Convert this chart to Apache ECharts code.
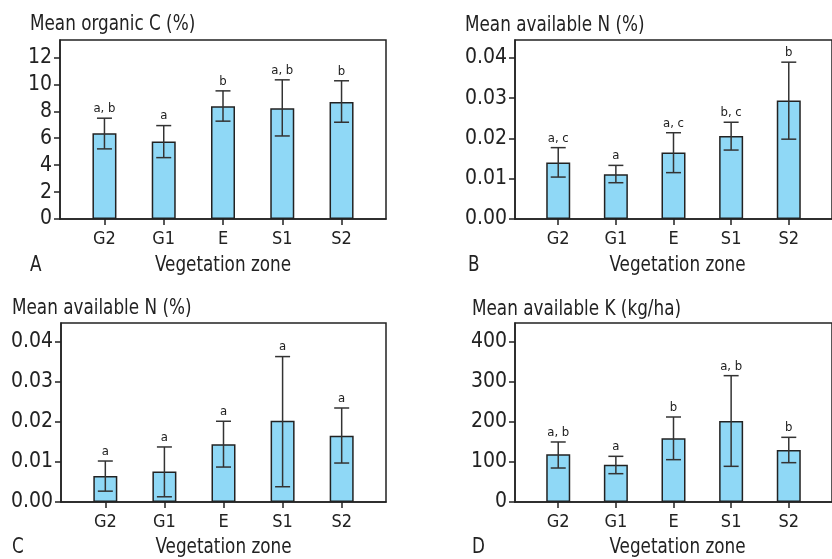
<!DOCTYPE html>
<html>
<head>
<meta charset="utf-8">
<script src="https://cdn.jsdelivr.net/npm/echarts@6/dist/echarts.min.js"></script>
<style>
  html, body { margin: 0; padding: 0; background: #fff; }
  #chart { width: 832px; height: 559px; }
</style>
</head>
<body>
<div id="chart"></div>
<script>
// vegetation zones, left to right
const zones = ["G2", "G1", "E", "S1", "S2"];
const zonePos = [1, 2, 3, 4, 5];

// A: organic carbon
const carbonMean = [6.37, 5.75, 8.38, 8.23, 8.70];
const carbonLow = [5.21, 4.56, 7.27, 6.17, 7.19];
const carbonHigh = [7.49, 6.94, 9.52, 10.34, 10.27];
const carbonLetters = ["a, b", "a", "b", "a, b", "b"];
const carbonTicks = [0, 2, 4, 6, 8, 10, 12];

// B: available N
const nitroBMean = [0.0140, 0.0111, 0.0165, 0.0206, 0.0294];
const nitroBLow = [0.0104, 0.0090, 0.0115, 0.0171, 0.0198];
const nitroBHigh = [0.0177, 0.0133, 0.0214, 0.0240, 0.0389];
const nitroBLetters = ["a, c", "a", "a, c", "b, c", "b"];

// C: available N
const nitroCMean = [0.0065, 0.0076, 0.0144, 0.0202, 0.0165];
const nitroCLow = [0.0027, 0.0013, 0.0087, 0.0038, 0.0097];
const nitroCHigh = [0.0102, 0.0137, 0.0201, 0.0362, 0.0234];
const nitroCLetters = ["a", "a", "a", "a", "a"];
const nitroTicks = [0, 0.01, 0.02, 0.03, 0.04];

// D: available K
const potashMean = [118.7, 93.0, 158.5, 201.7, 129.5];
const potashLow = [84.6, 70.5, 105.4, 88.8, 97.9];
const potashHigh = [149.4, 113.7, 211.6, 314.5, 161.0];
const potashLetters = ["a, b", "a", "b", "a, b", "b"];
const potashTicks = [0, 100, 200, 300, 400];

const xName = "Vegetation zone";

const ink = "#222";
const barFill = "#8fd8f6";
const font = "'DejaVu Sans Condensed', 'DejaVu Sans', sans-serif";
const squeeze = 0.85; // reference type is narrower than anything installed

const panels = [
  { title: "Mean organic C (%)", tag: "A", mean: carbonMean, low: carbonLow, high: carbonHigh,
    letters: carbonLetters, ticks: carbonTicks, max: 13.3, fmt: v => String(v),
    box: [60, 40, 386, 219], titleAt: [30, 24], tagAt: [30, 265.5], nameY: 265.5 },
  { title: "Mean available N (%)", tag: "B", mean: nitroBMean, low: nitroBLow, high: nitroBHigh,
    letters: nitroBLetters, ticks: nitroTicks, max: 0.0444, fmt: v => v.toFixed(2),
    box: [515, 40, 840, 219], titleAt: [465, 25.5], tagAt: [468, 265.5], nameY: 265.5 },
  { title: "Mean available N (%)", tag: "C", mean: nitroCMean, low: nitroCLow, high: nitroCHigh,
    letters: nitroCLetters, ticks: nitroTicks, max: 0.04456, fmt: v => v.toFixed(2),
    box: [61, 323, 386, 502], titleAt: [12, 308], tagAt: [12, 547], nameY: 547 },
  { title: "Mean available K (kg/ha)", tag: "D", mean: potashMean, low: potashLow, high: potashHigh,
    letters: potashLetters, ticks: potashTicks, max: 445.6, fmt: v => String(v),
    box: [515, 323, 840, 502], titleAt: [472, 309.5], tagAt: [472, 547], nameY: 547 }
];

function errorBars(letters) {
  return function(params, api) {
    const x = api.value(0);
    const lo = api.coord([x, api.value(1)]);
    const hi = api.coord([x, api.value(2)]);
    const hw = 7.5;
    const line = { stroke: "#333", lineWidth: 1.5 };
    return {
      type: "group",
      children: [
        { type: "line", shape: { x1: lo[0], y1: lo[1], x2: hi[0], y2: hi[1] }, style: line },
        { type: "line", shape: { x1: lo[0] - hw, y1: lo[1], x2: lo[0] + hw, y2: lo[1] }, style: line },
        { type: "line", shape: { x1: hi[0] - hw, y1: hi[1], x2: hi[0] + hw, y2: hi[1] }, style: line },
        {
          type: "text",
          x: hi[0],
          y: hi[1] - 3,
          style: {
            text: letters[params.dataIndex],
            textAlign: "center",
            textVerticalAlign: "bottom",
            font: "13px " + font,
            fill: ink
          }
        }
      ]
    };
  };
}

function squeezedText(text, x, y, align) {
  return {
    type: "text",
    x: x,
    y: y,
    scaleX: squeeze,
    style: { text: text, font: "22px " + font, fill: ink, textAlign: align, textVerticalAlign: "middle" }
  };
}

const W = 832, H = 559;
const option = {
  animation: false,
  backgroundColor: "#fff",
  grid: [],
  xAxis: [],
  yAxis: [],
  series: [],
  graphic: []
};

panels.forEach((p, i) => {
  const [l, t, r, b] = p.box;
  option.graphic.push(squeezedText(p.title, p.titleAt[0], p.titleAt[1], "left"));
  option.graphic.push(squeezedText(p.tag, p.tagAt[0], p.tagAt[1], "left"));
  option.graphic.push(squeezedText(xName, (l + r) / 2, p.nameY, "center"));
  option.grid.push({
    show: true, borderColor: ink, borderWidth: 1.5, backgroundColor: "transparent",
    left: l, top: t, right: W - r, bottom: H - b
  });
  option.xAxis.push({
    type: "value",
    gridIndex: i,
    min: 0.25,
    max: 5.75,
    splitLine: { show: false },
    axisLine: { lineStyle: { color: ink, width: 1.5 } },
    axisTick: { customValues: zonePos, length: 6, lineStyle: { color: ink, width: 1.5 } },
    axisLabel: {
      customValues: zonePos,
      formatter: v => zones[Math.round(v) - 1],
      margin: 11,
      fontFamily: font,
      fontSize: 18,
      color: ink
    }
  });
  option.yAxis.push({
    type: "value",
    gridIndex: i,
    min: 0,
    max: p.max,
    splitLine: { show: false },
    axisLine: { show: true, lineStyle: { color: ink, width: 1.5 } },
    axisTick: { show: true, customValues: p.ticks, length: 6, lineStyle: { color: ink, width: 1.5 } },
    axisLabel: {
      customValues: p.ticks,
      formatter: p.fmt,
      margin: 8,
      fontFamily: font,
      fontSize: 21,
      color: ink
    }
  });
  option.series.push({
    type: "bar",
    xAxisIndex: i,
    yAxisIndex: i,
    barWidth: 24,
    itemStyle: { color: barFill, borderColor: ink, borderWidth: 1.5 },
    data: zonePos.map((x, k) => [x, p.mean[k]]),
    z: 2
  });
  option.series.push({
    type: "custom",
    xAxisIndex: i,
    yAxisIndex: i,
    renderItem: errorBars(p.letters),
    data: zonePos.map((x, k) => [x, p.low[k], p.high[k]]),
    z: 3
  });
});

const chart = echarts.init(document.getElementById("chart"));
chart.setOption(option);
</script>
</body>
</html>
